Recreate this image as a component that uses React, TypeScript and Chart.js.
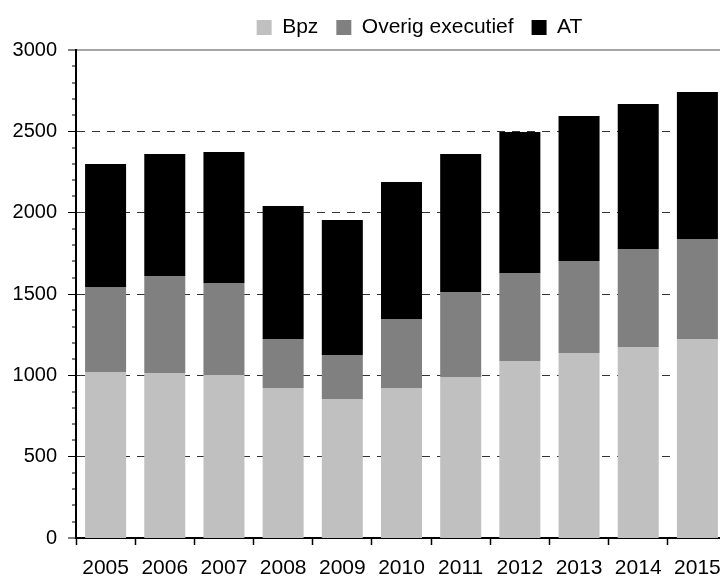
import React, { useEffect, useRef } from 'react';
import { Chart, registerables } from 'chart.js';

Chart.register(...registerables);

const categories = ['2005', '2006', '2007', '2008', '2009', '2010', '2011', '2012', '2013', '2014', '2015'];
const bpzValues = [1020, 1014, 1002, 922, 854, 922, 990, 1088, 1137, 1174, 1223];
const overigValues = [523, 597, 566, 301, 271, 424, 522, 541, 566, 603, 615];
const atValues = [756, 750, 805, 818, 830, 842, 849, 867, 891, 891, 904];
const seriesNames = ['Bpz', 'Overig executief', 'AT'];
const yMin = 0;
const yMax = 3000;
const yMinorStep = 100;
const yMajorStep = 500;

const CANVAS_W = 740;
const CANVAS_H = 577;
const LEGEND_DX = 56;
const LEGEND_DY = -2;

const legendShift = {
  id: 'legendShift',
  afterLayout(chart: any) {
    const lg = chart.legend;
    if (lg) {
      lg.left += LEGEND_DX;
      lg.right += LEGEND_DX;
      lg.top += LEGEND_DY;
      lg.bottom += LEGEND_DY;
    }
  },
};

export default function App() {
  const ref = useRef<HTMLCanvasElement | null>(null);

  useEffect(() => {
    if (!ref.current) return;
    Chart.defaults.font.family = "'Liberation Sans', Arial, sans-serif";
    Chart.defaults.font.size = 20;
    Chart.defaults.color = '#000';

    const isMajor = (v: number) => v % yMajorStep === 0;

    const chart = new Chart(ref.current, {
      type: 'bar',
      data: {
        labels: categories,
        datasets: [
          { label: seriesNames[0], data: bpzValues, backgroundColor: '#c0c0c0' },
          { label: seriesNames[1], data: overigValues, backgroundColor: '#808080' },
          { label: seriesNames[2], data: atValues, backgroundColor: '#000000' },
        ],
      },
      options: {
        animation: false,
        responsive: false,
        devicePixelRatio: 1,
        layout: { padding: { top: 1, right: CANVAS_W - 727, left: 0, bottom: 0 } },
        datasets: {
          bar: { categoryPercentage: 1, barPercentage: 0.693, borderWidth: 0 },
        },
        plugins: {
          legend: {
            position: 'top',
            labels: {
              boxWidth: 15,
              boxHeight: 15,
              padding: 18,
              color: '#000',
              font: { size: 21 },
            },
          },
          tooltip: { enabled: false },
          title: { display: false },
        },
        scales: {
          x: {
            stacked: true,
            offset: true,
            afterFit: (s: any) => { s.height = 39; },
            grid: {
              offset: true,
              drawOnChartArea: false,
              drawTicks: true,
              tickLength: 7,
              tickColor: '#000',
              tickWidth: 1.5,
            },
            border: { display: true, color: '#000', width: 2 },
            ticks: {
              padding: 11,
              maxRotation: 0,
              autoSkip: false,
              color: '#000',
              font: { size: 21 },
            },
          },
          y: {
            stacked: true,
            min: yMin,
            max: yMax,
            afterFit: (s: any) => { s.width = 76; },
            grid: {
              drawTicks: true,
              tickLength: 8,
              tickColor: '#000',
              tickWidth: 1,
              color: (ctx: any) => {
                const v = ctx.tick ? ctx.tick.value : 0;
                if (v === yMax) return '#a6a6a6';
                return '#333333';
              },
              lineWidth: (ctx: any) => {
                const v = ctx.tick ? ctx.tick.value : 0;
                if (v === yMax) return 2;
                if (v === yMin || !isMajor(v)) return 0;
                return 1;
              },
              tickBorderDash: (ctx: any) => {
                const v = ctx.tick ? ctx.tick.value : 0;
                return isMajor(v) ? [] : [0, 4, 4, 4];
              },
            },
            border: {
              display: true,
              color: '#000',
              width: 2,
              dash: (ctx: any) => {
                if (!ctx.tick) return [];
                return ctx.tick.value === yMax ? [] : [8, 7];
              },
            },
            ticks: {
              stepSize: yMinorStep,
              autoSkip: false,
              padding: 11,
              color: '#000',
              font: { size: 20 },
              callback: (value: any) => (isMajor(Number(value)) ? String(value) : ''),
            },
          },
        },
      },
      plugins: [legendShift],
    });

    return () => chart.destroy();
  }, []);

  return (
    <div
      style={{
        position: 'fixed',
        left: 0,
        top: 0,
        width: 720,
        height: 577,
        overflow: 'hidden',
        background: '#fff',
      }}
    >
      <canvas ref={ref} width={CANVAS_W} height={CANVAS_H} style={{ display: 'block' }} />
    </div>
  );
}
